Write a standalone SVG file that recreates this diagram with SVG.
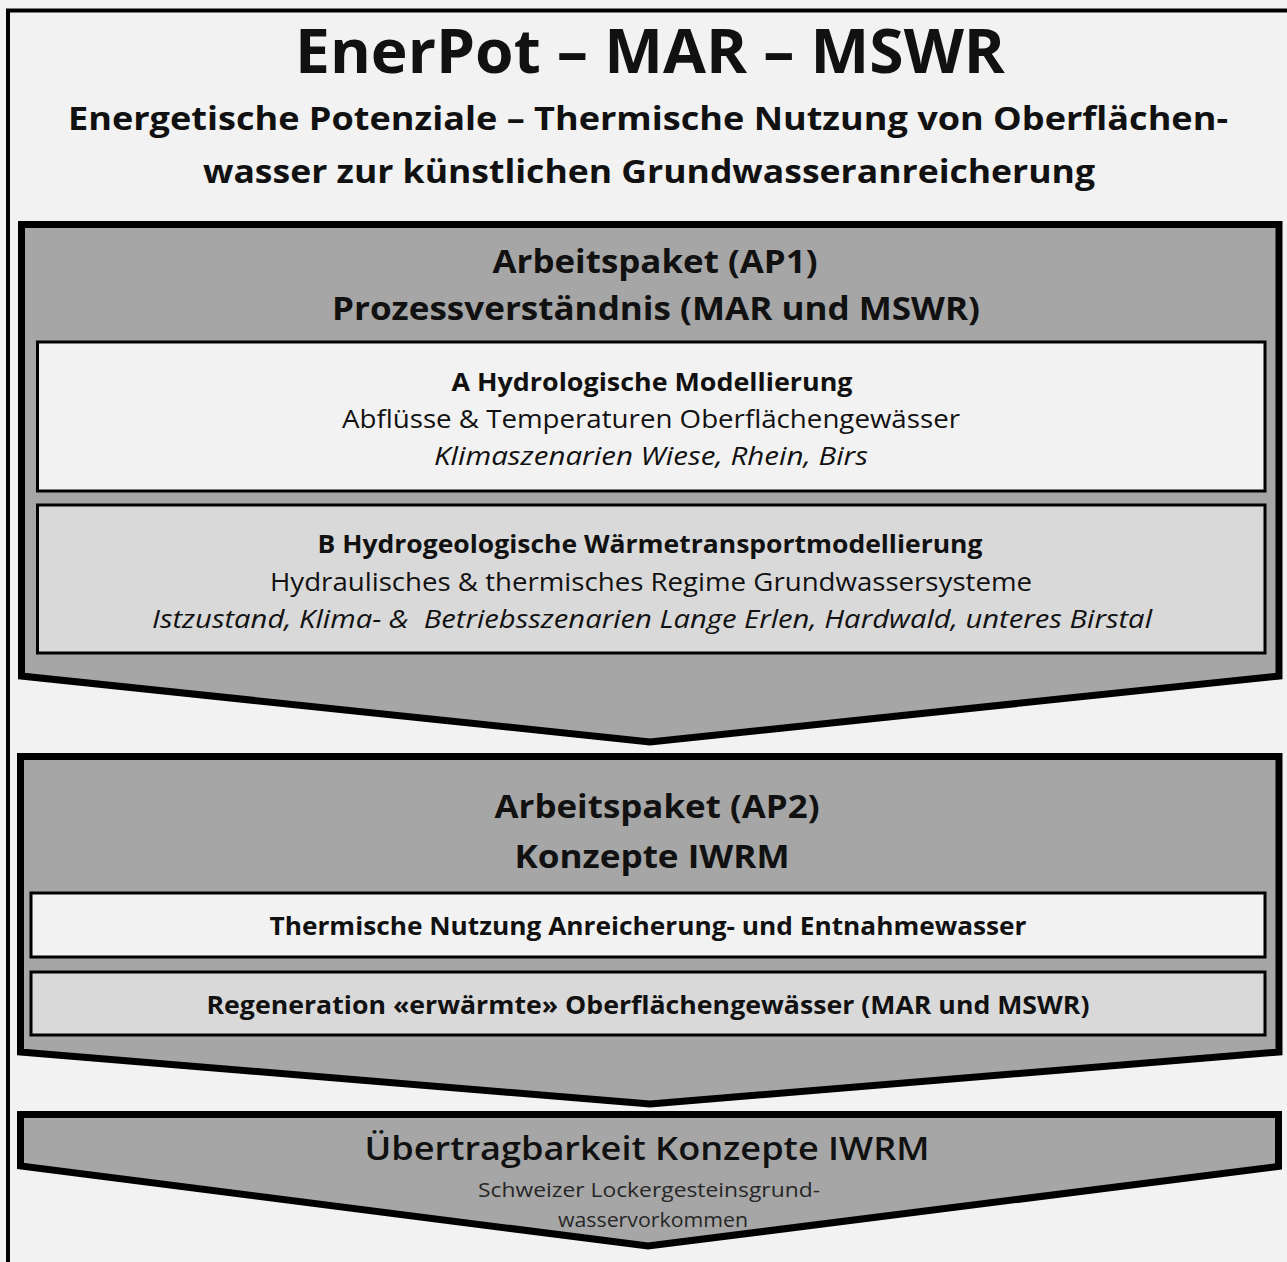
<svg xmlns="http://www.w3.org/2000/svg" width="1287" height="1262" viewBox="0 0 1287 1262">
<style>
text{font-family:"Open Sans","Noto Sans","Liberation Sans",sans-serif;fill:#111;text-anchor:middle}
.b{font-weight:bold}
.i{font-style:italic}
.chev{fill:#a6a6a6;stroke:#000;stroke-width:7}
.box{stroke:#000;stroke-width:3}
.w{fill:#f2f2f2}
.g{fill:#d9d9d9}
</style>
<rect x="0" y="0" width="1287" height="1262" fill="#f2f2f2"/>
<rect x="8" y="10.5" width="1300" height="1280" fill="none" stroke="#000" stroke-width="4"/>
<g id="title">
<text class="b" x="650" y="73" font-size="61" textLength="710" lengthAdjust="spacingAndGlyphs">EnerPot – MAR – MSWR</text>
<text class="b" x="648" y="130" font-size="31.5" textLength="1160" lengthAdjust="spacingAndGlyphs">Energetische Potenziale – Thermische Nutzung von Oberflächen-</text>
<text class="b" x="649" y="183" font-size="31.5" textLength="892" lengthAdjust="spacingAndGlyphs">wasser zur künstlichen Grundwasseranreicherung</text>
</g>
<g id="ap1">
<path class="chev" d="M21.5,224.5 H1279 V676 L650,742 L21.5,676 Z"/>
<text class="b" x="655" y="273" font-size="32.5" textLength="325" lengthAdjust="spacingAndGlyphs">Arbeitspaket (AP1)</text>
<text class="b" x="656" y="320" font-size="32.5" textLength="648" lengthAdjust="spacingAndGlyphs">Prozessverständnis (MAR und MSWR)</text>
<g id="ap1-a">
<rect class="box w" x="37.5" y="342" width="1227.5" height="149"/>
<text class="b" x="652" y="391" font-size="25" textLength="401" lengthAdjust="spacingAndGlyphs">A Hydrologische Modellierung</text>
<text x="651" y="428" font-size="25" textLength="618" lengthAdjust="spacingAndGlyphs">Abflüsse &amp; Temperaturen Oberflächengewässer</text>
<text class="i" x="651" y="465" font-size="25" textLength="434" lengthAdjust="spacingAndGlyphs">Klimaszenarien Wiese, Rhein, Birs</text>
</g>
<g id="ap1-b">
<rect class="box g" x="37.5" y="505" width="1227.5" height="148"/>
<text class="b" x="650" y="553" font-size="25" textLength="665" lengthAdjust="spacingAndGlyphs">B Hydrogeologische Wärmetransportmodellierung</text>
<text x="651" y="591" font-size="25" textLength="762" lengthAdjust="spacingAndGlyphs">Hydraulisches &amp; thermisches Regime Grundwassersysteme</text>
<text class="i" x="652" y="628" font-size="25" textLength="1000" lengthAdjust="spacingAndGlyphs" xml:space="preserve">Istzustand, Klima- &amp;  Betriebsszenarien Lange Erlen, Hardwald, unteres Birstal</text>
</g>
</g>
<g id="ap2">
<path class="chev" d="M20.5,756.5 H1279 V1052 L650,1104 L20.5,1052 Z"/>
<text class="b" x="657" y="818" font-size="32.5" textLength="325" lengthAdjust="spacingAndGlyphs">Arbeitspaket (AP2)</text>
<text class="b" x="652" y="868" font-size="32.5" textLength="275" lengthAdjust="spacingAndGlyphs">Konzepte IWRM</text>
<g id="ap2-a">
<rect class="box w" x="31" y="893" width="1234" height="64"/>
<text class="b" x="648" y="935" font-size="25" textLength="757" lengthAdjust="spacingAndGlyphs">Thermische Nutzung Anreicherung- und Entnahmewasser</text>
</g>
<g id="ap2-b">
<rect class="box g" x="31" y="972" width="1234" height="63"/>
<text class="b" x="648" y="1014" font-size="25" textLength="883" lengthAdjust="spacingAndGlyphs">Regeneration «erwärmte» Oberflächengewässer (MAR und MSWR)</text>
</g>
</g>
<g id="ap3">
<path class="chev" d="M20.5,1114.5 H1278.5 V1166.5 L648,1246 L20.5,1166 Z"/>
<text x="647" y="1160" font-size="33" textLength="565" lengthAdjust="spacingAndGlyphs" style="font-weight:600">Übertragbarkeit Konzepte IWRM</text>
<text x="649" y="1197" font-size="20" textLength="342" lengthAdjust="spacingAndGlyphs" style="fill:#262626">Schweizer Lockergesteinsgrund-</text>
<text x="653" y="1227" font-size="20" textLength="190" lengthAdjust="spacingAndGlyphs" style="fill:#262626">wasservorkommen</text>
</g>
<g id="connectors"></g>
</svg>
